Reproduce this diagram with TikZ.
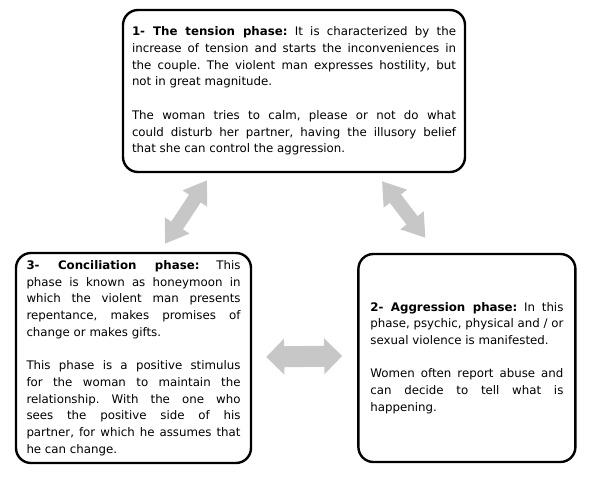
\documentclass[tikz,border=0pt]{standalone}
\usepackage{fontspec}
\setmainfont{DejaVu Sans}
\usepackage{tikz}
\usetikzlibrary{arrows.meta, positioning}
\hyphenpenalty=10000
\exhyphenpenalty=10000
\frenchspacing

\begin{document}
\begin{tikzpicture}[
  x = 1pt, y = 1pt,
  every node/.style = {font=\fontsize{11.8}{16.7}\selectfont},
  phase/.style    = {rectangle, rounded corners=15pt, draw=black,
                     line width=2.4pt, align=justify, inner sep=0pt},
  dblarrow/.style = {{Triangle[width=28pt,length=22pt]}-{Triangle[width=28pt,length=22pt]},
                     line width=14pt, draw=black!22},
  flatarrow/.style = {{Triangle[width=35pt,length=18pt]}-{Triangle[width=35pt,length=18pt]},
                     line width=21pt, draw=black!22}
]
\useasboundingbox (0,0) rectangle (591,477);

% --- the three phases ---
\node[phase, minimum width=342pt, minimum height=162pt, text width=324pt]
  (tension) at (294,386) {\textbf{1- The tension phase:} It is characterized by the\linebreak
  increase of tension and starts the inconveniences in\linebreak the couple. The violent
  man expresses hostility, but\linebreak not in great magnitude.\par\vspace{\baselineskip}
  The woman tries to calm, please or not do what\linebreak could disturb her partner,
  having the illusory belief\linebreak that she can control the aggression.};
\node[phase, minimum width=235pt, minimum height=210pt, text width=214pt]
  (concil) at (133.5,119) {\textbf{3- Conciliation phase:} This\linebreak phase is known as
  honeymoon in\linebreak which the violent man presents\linebreak repentance, makes promises of\linebreak
  change or makes gifts.\par\vspace{\baselineskip}
  This phase is a positive stimulus\linebreak for the woman to maintain the\linebreak relationship.
  With the one who\linebreak sees the positive side of his\linebreak partner, for which he assumes
  that\linebreak he can change.};
\node[phase, minimum width=217pt, minimum height=208pt, text width=193pt,
      right=105pt of concil] (aggress) {\textbf{2- Aggression phase:} In this\linebreak
  phase, psychic, physical and / or\linebreak sexual violence is manifested.\par\vspace{\baselineskip}
  Women often report abuse and\linebreak can decide to tell what is\linebreak happening.};

% --- Arrows ---
\draw[dblarrow] ([shift={(31.5,8)}]concil.north) -- ([shift={(-87,-7)}]tension.south);
\draw[dblarrow] ([shift={(88,-8)}]tension.south) -- ([shift={(-41.5,15)}]aggress.north);
\draw[flatarrow] ([shift={(14,1)}]concil.east) -- ([shift={(-15,2)}]aggress.west);

\end{tikzpicture}
\end{document}
